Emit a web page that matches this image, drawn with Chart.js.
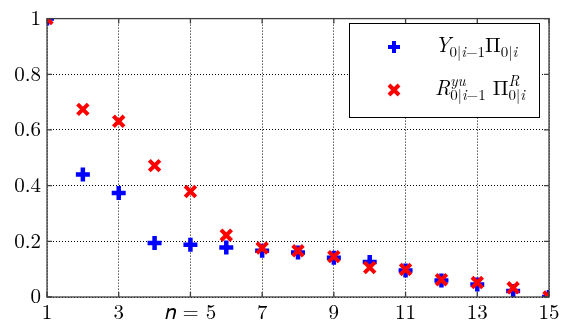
<!DOCTYPE html>
<html><head><meta charset="utf-8">
<script src="https://cdn.jsdelivr.net/npm/chart.js@4/dist/chart.umd.min.js"></script>
<style>html,body{margin:0;padding:0;background:#fff}#wrap{width:570px;height:329px;position:relative}</style>
</head><body><div id="wrap"><canvas id="c" width="570" height="329"></canvas></div>
<script>
const xValues = [1,2,3,4,5,6,7,8,9,10,11,12,13,14,15];
const blueValues = [1.0,0.44,0.374,0.194,0.188,0.178,0.166,0.160,0.141,0.126,0.095,0.059,0.045,0.022,0.0];
const redValues = [1.0,0.674,0.631,0.472,0.379,0.222,0.176,0.166,0.145,0.106,0.099,0.062,0.052,0.033,0.0];
const xTicks = [1,3,5,7,9,11,13,15];
const xTickLabels = ['1','3','𝑛 = 5','7','9','11','13','15'];
const yTicks = [0,0.2,0.4,0.6,0.8,1];
const yTickLabels = ['0','0.2','0.4','0.6','0.8','1'];

const FONT = "Latin Modern Roman";
Chart.defaults.font.family = FONT;
Chart.defaults.font.size = 21;
Chart.defaults.color = '#000';

function pts(vals){ return xValues.map((x,i)=>({x:x,y:vals[i]})); }

function drawParts(ctx, x, y, parts){
  for (const p of parts){
    if (p.stack){
      let w1 = drawParts(ctx, x, y, p.stack[0]) - x;
      let w2 = drawParts(ctx, x, y, p.stack[1]) - x;
      x += Math.max(w1,w2);
      continue;
    }
    ctx.font = (p.it?'italic ':'') + p.s + 'px ' + FONT;
    ctx.fillText(p.t, x, y + (p.dy||0));
    x += ctx.measureText(p.t).width + (p.gap||0);
  }
  return x;
}

const sub = (t,it)=>({t:t,s:15,dy:5,it:!!it});
const sup = (t,it)=>({t:t,s:15,dy:-9,it:!!it});

const framePlugin = {
  id:'frame',
  afterDraw(chart){
    const ctx = chart.ctx, a = chart.chartArea;
    const xs = chart.scales.x, ys = chart.scales.y;
    ctx.save();
    ctx.strokeStyle = '#404040';
    ctx.lineWidth = 1.3;
    ctx.strokeRect(a.left, a.top, a.right-a.left, a.bottom-a.top);
    ctx.beginPath();
    for (const v of xTicks){
      const px = xs.getPixelForValue(v);
      ctx.moveTo(px, a.bottom); ctx.lineTo(px, a.bottom-5);
      ctx.moveTo(px, a.top); ctx.lineTo(px, a.top+5);
    }
    for (const v of yTicks){
      const py = ys.getPixelForValue(v);
      ctx.moveTo(a.left, py); ctx.lineTo(a.left+5, py);
      ctx.moveTo(a.right, py); ctx.lineTo(a.right-5, py);
    }
    ctx.stroke();

    // legend
    const lx = 349, ly = 23, lw = 190, lh = 94;
    ctx.fillStyle = '#fff';
    ctx.fillRect(lx, ly, lw, lh);
    ctx.strokeStyle = '#000';
    ctx.lineWidth = 1;
    ctx.strokeRect(lx+0.5, ly+0.5, lw, lh);
    ctx.lineWidth = 4;
    ctx.strokeStyle = '#0000ff';
    ctx.beginPath();
    ctx.moveTo(394-6,47); ctx.lineTo(394+6,47);
    ctx.moveTo(394,47-6); ctx.lineTo(394,47+6);
    ctx.stroke();
    ctx.strokeStyle = '#ff0000';
    ctx.beginPath();
    const d = 5;
    ctx.moveTo(394-d,90-d); ctx.lineTo(394+d,90+d);
    ctx.moveTo(394-d,90+d); ctx.lineTo(394+d,90-d);
    ctx.stroke();
    ctx.fillStyle = '#000';
    ctx.textBaseline = 'alphabetic';
    ctx.textAlign = 'left';
    drawParts(ctx, 435, 52, [
      {t:'Y',s:21,it:true,gap:-1},
      sub('0|',false), sub('i',true), sub('−1',false),
      {t:'Π',s:21,it:false},
      sub('0|',false), sub('i',true)
    ]);
    drawParts(ctx, 435, 95, [
      {t:'R',s:21,it:true},
      {stack:[[sup('yu',true)],[sub('0|',false),sub('i',true),sub('−1',false)]]},
      {t:' ',s:21},
      {t:'Π',s:21,it:false},
      {stack:[[sup('R',true)],[sub('0|',false),sub('i',true)]]}
    ]);
    ctx.restore();
  }
};

new Chart(document.getElementById('c'), {
  type:'scatter',
  data:{
    datasets:[
      {label:'Y', data:pts(blueValues), pointStyle:'cross', radius:7, borderWidth:4.5,
       borderColor:'#0000ff', backgroundColor:'#0000ff', order:2, clip:0},
      {label:'R', data:pts(redValues), pointStyle:'crossRot', radius:7.5, borderWidth:4,
       borderColor:'#ff0000', backgroundColor:'#ff0000', order:1, clip:0}
    ]
  },
  options:{
    responsive:false, animation:false, devicePixelRatio:1,
    layout:{padding:{top:11,right:21,left:0,bottom:0}},
    plugins:{legend:{display:false}, tooltip:{enabled:false}},
    events:[],
    scales:{
      x:{type:'linear', min:1, max:15,
        afterBuildTicks(s){ s.ticks = xTicks.map(v=>({value:v})); },
        afterFit(s){ s.height = 32; },
        ticks:{color:'#000', font:{family:FONT,size:21}, padding:3, maxRotation:0, autoSkip:false,
          callback(v){ const i = xTicks.indexOf(v); return i>=0 ? xTickLabels[i] : ''; }},
        grid:{color:'#000', lineWidth:1, drawTicks:false},
        border:{display:false, dash:[1,2]}
      },
      y:{type:'linear', min:0, max:1,
        afterBuildTicks(s){ s.ticks = yTicks.map(v=>({value:v})); },
        afterFit(s){ s.width = 47; },
        ticks:{color:'#000', font:{family:FONT,size:21}, padding:6,
          callback(v){ const i = yTicks.indexOf(v); return i>=0 ? yTickLabels[i] : ''; }},
        grid:{color:'#000', lineWidth:1, drawTicks:false},
        border:{display:false, dash:[1,2]}
      }
    }
  },
  plugins:[framePlugin]
});
</script></body></html>
